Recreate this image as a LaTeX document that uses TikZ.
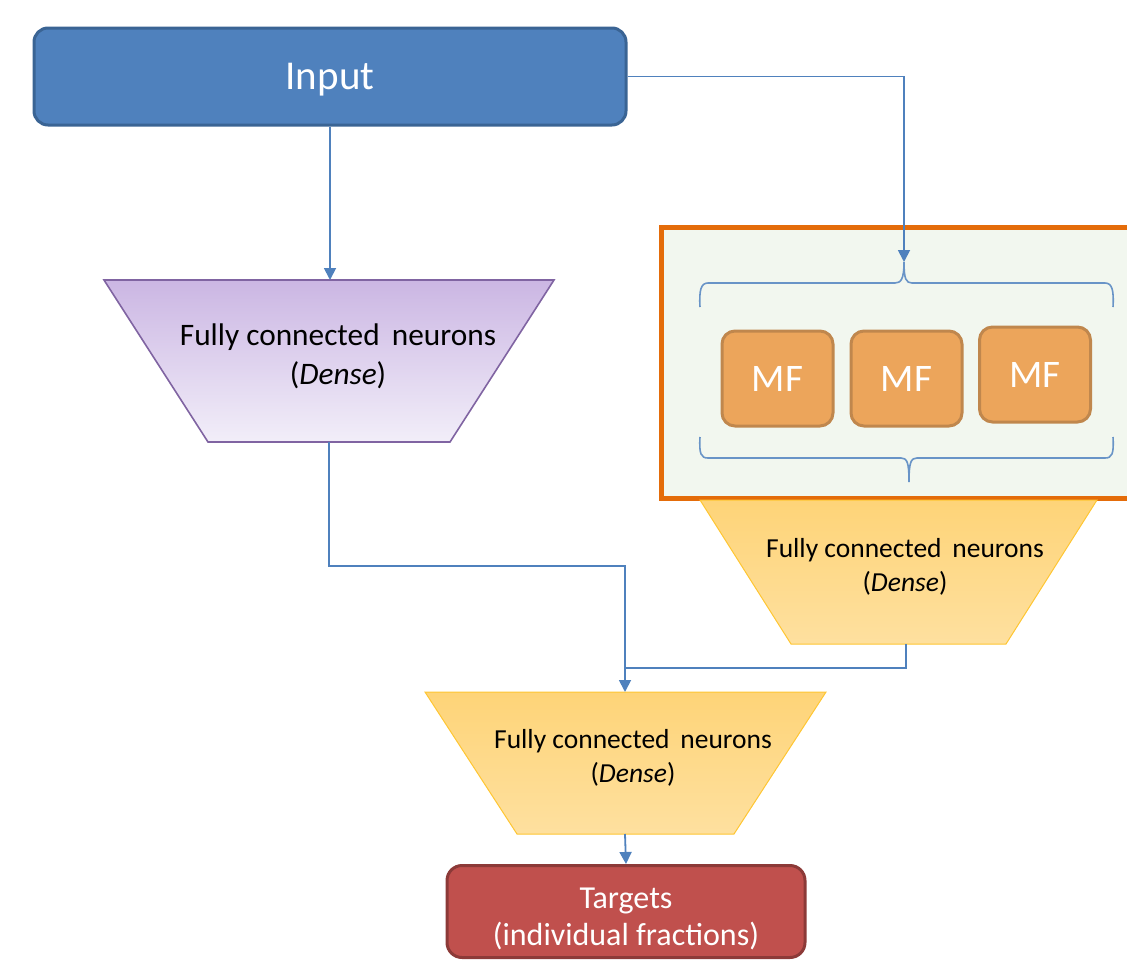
\documentclass[tikz,border=0pt]{standalone}
\usepackage{fontspec}
\setmainfont{Carlito}
\usetikzlibrary{arrows.meta}
\definecolor{inblue}{HTML}{4F81BD}
\definecolor{inborder}{HTML}{3A6494}
\definecolor{conn}{HTML}{4F81BD}
\definecolor{purptop}{HTML}{CBB6E3}
\definecolor{purpbot}{HTML}{F2EEF9}
\definecolor{purpline}{HTML}{8064A2}
\definecolor{yeltop}{HTML}{FED478}
\definecolor{yelbot}{HTML}{FEE09F}
\definecolor{yelline}{HTML}{FFC632}
\definecolor{orframe}{HTML}{E46C0A}
\definecolor{frfill}{HTML}{F2F7EF}
\definecolor{mffill}{HTML}{ECA55B}
\definecolor{mfline}{HTML}{C0874D}
\definecolor{tgfill}{HTML}{C0504D}
\definecolor{tgline}{HTML}{8C3A38}
\tikzset{
  conline/.style={draw=conn, line width=1.8pt},
  arr/.style={conline, -{Triangle[length=12pt,width=12pt]}},
  txt/.style={align=center, inner sep=0pt, font=\fontsize{31.3}{39}\selectfont},
  ytxt/.style={align=center, inner sep=0pt, font=\fontsize{27.5}{34}\selectfont},
  mfbox/.style={draw=mfline, fill=mffill, line width=3pt, rounded corners=13pt, minimum width=111pt, minimum height=95pt, inner sep=0pt, text=white, font=\fontsize{39}{44}\selectfont},
  bracestyle/.style={draw=conn!85, line width=1.6pt}
}
\begin{document}
\begin{tikzpicture}[x=1pt,y=-1pt]
\useasboundingbox (0,0) rectangle (1127,961);
% Input
\node[draw=inborder, fill=inblue, line width=3pt, rounded corners=14pt, minimum width=592pt, minimum height=97pt, inner sep=0pt, text=white, font=\fontsize{41}{46}\selectfont] (input) at (330,76.5) {};
\node[text=white, inner sep=0pt, font=\fontsize{41}{46}\selectfont] (inputtext) at (330,80) {Input};
% Purple trapezoid
\shade[top color=purptop, bottom color=purpbot, draw=purpline, line width=1.6pt] (104,280) -- (554,280) -- (450,442) -- (208,442) -- cycle;
\coordinate (ptop) at (330,280);
\coordinate (pbot) at (329,442);
\node[txt] (ptext) at (338,356) {Fully connected\, neurons\\(\textit{Dense})};
% Orange frame
\draw[draw=orframe, fill=frfill, line width=5pt] (661,227) rectangle (1140,498);
% braces
\coordinate (btip) at (904,262);
\draw[bracestyle] (700,307) .. controls (699,290) and (701,283) .. (708,283) -- (895,283) .. controls (901,283) and (904,279) .. (btip) .. controls (904,279) and (906,283) .. (912,283) -- (1105,283) .. controls (1112,283) and (1114,290) .. (1113,307);
\draw[bracestyle] (700,437) .. controls (699,454) and (701,458) .. (708,458) -- (901,458) .. controls (907,458) and (909,462) .. (909,482) .. controls (909,462) and (911,458) .. (917,458) -- (1105,458) .. controls (1112,458) and (1114,454) .. (1113,437);
% MF boxes
\node[mfbox] (mf1) at (777.5,378.5) {MF};
\node[mfbox] (mf2) at (906.5,378.5) {MF};
\node[mfbox] (mf3) at (1035,374.5) {MF};
% Yellow right trapezoid
\shade[top color=yeltop, bottom color=yelbot, draw=yelline, line width=1pt] (700,500) -- (1097,500) -- (1006,644) -- (791,644) -- cycle;
\coordinate (ytop) at (906,644);
\node[ytxt] (ytext) at (905,567) {Fully connected\, neurons\\(\textit{Dense})};
% Yellow bottom trapezoid
\shade[top color=yeltop, bottom color=yelbot, draw=yelline, line width=1pt] (425,692) -- (826,692) -- (734,834) -- (517,834) -- cycle;
\coordinate (bt) at (625,692);
\coordinate (bb) at (625,834);
\node[ytxt] (btext) at (633,758) {Fully connected\, neurons\\(\textit{Dense})};
% Targets
\node[draw=tgline, fill=tgfill, line width=3pt, rounded corners=15pt, minimum width=358pt, minimum height=92pt, inner sep=0pt] (targets) at (626,911.5) {};
\node[text=white, align=center, inner sep=0pt, font=\fontsize{32}{37}\selectfont] (ttext) at (626,919) {Targets\\(individual fractions)};
% connectors
\draw[arr] (input.south) -- (ptop);
\draw[arr] (input.east) -| (btip);
\coordinate (j1) at (329,566);
\coordinate (j2) at (625,566);
\coordinate (j3) at (906,668);
\draw[arr] (pbot) -- (j1) -- (j2) -- (bt);
\draw[conline] (ytop) -- (j3) -- (625,668);
\draw[arr] (bb) -- (targets.north);
\end{tikzpicture}
\end{document}
